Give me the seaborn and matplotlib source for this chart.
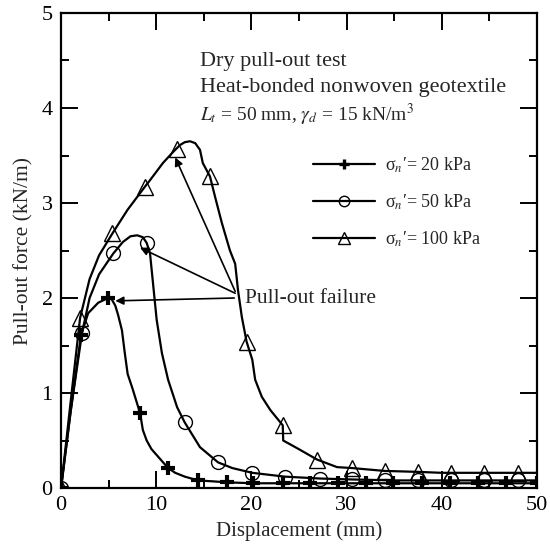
import matplotlib
matplotlib.use("Agg")
import matplotlib.pyplot as plt
from matplotlib.lines import Line2D
from matplotlib.ticker import MultipleLocator
import pandas as pd
import seaborn as sns

# Load-displacement curves (smooth traces)
disp_20 = [0, 1.0, 2.1, 2.85, 3.9, 4.95, 5.3, 5.7, 6.0, 6.4, 6.7, 7.0, 7.5, 8.3, 8.6, 9.0, 9.5,
           10.2, 11.25, 12.0, 13.0, 14.4, 16.0, 17.4, 20.2, 25, 30, 40, 50]
force_20 = [0, 0.8, 1.61, 1.84, 1.95, 2.0, 1.99, 1.92, 1.82, 1.66, 1.42, 1.2, 1.05, 0.79, 0.61, 0.5, 0.41,
            0.33, 0.21, 0.16, 0.12, 0.08, 0.07, 0.06, 0.05, 0.05, 0.05, 0.05, 0.05]

disp_50 = [0, 1.0, 2.2, 3.0, 4.0, 5.5, 6.5, 7.3, 8.0, 8.6, 9.0, 9.35, 9.7, 10.05, 10.6, 11.25,
           12.2, 13.0, 14.6, 16.5, 18.0, 20.1, 23.5, 27.2, 30.6, 35, 40, 50]
force_50 = [0, 0.8, 1.63, 2.0, 2.25, 2.47, 2.59, 2.65, 2.66, 2.64, 2.58, 2.47, 2.12, 1.77, 1.42, 1.14,
            0.85, 0.69, 0.43, 0.27, 0.21, 0.16, 0.12, 0.10, 0.09, 0.08, 0.08, 0.08]

disp_100 = [0, 1.0, 2.0, 3.0, 4.0, 5.4, 7.0, 8.8, 9.35, 10.7, 11.8, 12.5, 13.0, 13.55, 14.1, 14.6,
            14.9, 15.65, 16.2, 16.9, 17.75, 18.3, 18.6, 19.0, 19.5, 20.1, 20.4, 21.1, 22.0, 23.3,
            23.35, 24.8, 26.9, 29.0, 30.6, 34.0, 37.5, 40, 50]
force_100 = [0, 0.9, 1.79, 2.2, 2.45, 2.68, 2.93, 3.17, 3.24, 3.42, 3.54, 3.61, 3.64, 3.65, 3.63, 3.56,
             3.42, 3.28, 3.06, 2.79, 2.5, 2.36, 2.08, 1.8, 1.54, 1.35, 1.14, 0.96, 0.82, 0.66,
             0.5, 0.42, 0.30, 0.22, 0.21, 0.18, 0.17, 0.16, 0.16]

# Measured data points shown with symbols
mark_disp_20 = [0, 2.1, 4.95, 8.3, 11.25, 14.4, 17.4, 20.2, 23.3, 26.2, 29.1, 32.1, 34.9, 37.9, 40.9, 43.8, 46.8, 50.0]
mark_force_20 = [0, 1.61, 2.0, 0.79, 0.21, 0.08, 0.06, 0.05, 0.05, 0.05, 0.05, 0.05, 0.05, 0.05, 0.05, 0.05, 0.05, 0.05]

mark_disp_50 = [0, 2.2, 5.5, 9.0, 13.0, 16.5, 20.1, 23.5, 27.2, 30.6, 34.0, 37.5, 41.0, 44.5, 48.0]
mark_force_50 = [0, 1.63, 2.47, 2.58, 0.69, 0.27, 0.16, 0.12, 0.10, 0.09, 0.08, 0.08, 0.08, 0.08, 0.08]

mark_disp_100 = [0, 2.0, 5.4, 8.8, 12.2, 15.65, 19.5, 23.3, 26.9, 30.6, 34.0, 37.5, 41.0, 44.5, 48.0]
mark_force_100 = [0, 1.79, 2.68, 3.17, 3.57, 3.28, 1.54, 0.66, 0.30, 0.21, 0.18, 0.17, 0.16, 0.16, 0.16]

series_labels = ["20 kPa", "50 kPa", "100 kPa"]
series_markers = ["+", "o", "^"]

# Peak (pull-out failure) points targeted by the arrows
peak_disp = [5.7, 8.3, 12.0]
peak_force = [1.97, 2.53, 3.48]

sns.set_style("ticks")
plt.rcParams["font.family"] = ["Liberation Serif", "DejaVu Serif"]
plt.rcParams["mathtext.fontset"] = "stix"

fig = plt.figure(figsize=(5.5, 5.53), dpi=100)
ax = fig.add_axes([0.111, 0.1175, 0.865, 0.859])

curves = [(disp_20, force_20), (disp_50, force_50), (disp_100, force_100)]
marks = [(mark_disp_20, mark_force_20), (mark_disp_50, mark_force_50), (mark_disp_100, mark_force_100)]
marker_style = {
    "+": dict(markersize=10.5, markeredgewidth=3.0, markerfacecolor="black"),
    "o": dict(markersize=10, markeredgewidth=1.0, markerfacecolor="none"),
    "^": dict(markersize=11, markeredgewidth=1.0, markerfacecolor="none"),
}

for (cx, cy), (mx, my), mk in zip(curves, marks, series_markers):
    df_line = pd.DataFrame({"disp": cx, "force": cy})
    sns.lineplot(data=df_line, x="disp", y="force", ax=ax, color="black",
                 linewidth=1.6, sort=False, estimator=None,
                 solid_joinstyle="round", solid_capstyle="round")
    df_mark = pd.DataFrame({"disp": mx, "force": my})
    sns.lineplot(data=df_mark, x="disp", y="force", ax=ax, color="black",
                 linestyle="none", marker=mk, markeredgecolor="black",
                 sort=False, estimator=None, **marker_style[mk])

ax.set_xlim(0, 50)
ax.set_ylim(0, 5)
ax.xaxis.set_major_locator(MultipleLocator(10))
ax.xaxis.set_minor_locator(MultipleLocator(5))
ax.yaxis.set_major_locator(MultipleLocator(1))
ax.yaxis.set_minor_locator(MultipleLocator(0.5))
ax.tick_params(which="both", direction="in", top=True, right=True, width=1.4,
               labelsize=16, colors="black")
ax.tick_params(which="major", length=12, pad=6)
ax.tick_params(which="minor", length=6)
for sp in ax.spines.values():
    sp.set_linewidth(1.6)
    sp.set_color("black")

ax.set_xlabel("Displacement (mm)", fontsize=15, labelpad=4)
ax.set_ylabel("Pull-out force (kN/m)", fontsize=15.5, labelpad=6)

# Test description
ax.text(14.6, 4.44, "Dry pull-out test", fontsize=16, va="baseline")
ax.text(14.6, 4.17, "Heat-bonded nonwoven geotextile", fontsize=16, va="baseline")
ax.text(14.6, 3.86, r"$L_t$ = 50 mm, $\gamma_d$ = 15 kN/m$^3$", fontsize=14, va="baseline")

# Arrows to the failure points
tails = [(18.2, 2.0), (18.3, 2.05), (18.3, 2.07)]
for (tx, ty), px, py in zip(tails, peak_disp, peak_force):
    ax.annotate("", xy=(px, py), xytext=(tx, ty),
                arrowprops=dict(arrowstyle="-|>", color="black", lw=1.2,
                                mutation_scale=12, shrinkA=0, shrinkB=0))
ax.text(19.3, 2.0, "Pull-out failure", fontsize=15.5, va="center", ha="left")

handles = []
for mk, lab in zip(series_markers, series_labels):
    st = dict(marker_style[mk])
    st["markersize"] = st["markersize"] * 0.75
    if mk == "+":
        st["markeredgewidth"] = 2.4
    handles.append(Line2D([], [], color="black", linewidth=1.6, marker=mk,
                          markeredgecolor="black", **st))
labels = [r"σ$_{n}$′= " + s for s in series_labels]
ax.legend(handles, labels, loc="upper left", bbox_to_anchor=(0.529, 0.700),
          frameon=False, fontsize=13, handlelength=3.45, handletextpad=0.55,
          labelspacing=0.98, borderpad=0, borderaxespad=0)

fig.savefig("out.png", dpi=100)
